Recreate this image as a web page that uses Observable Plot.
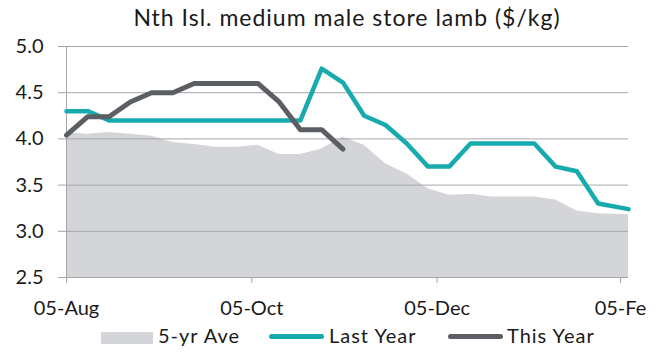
<!DOCTYPE html>
<html>
<head>
<meta charset="utf-8">
<script src="https://cdn.jsdelivr.net/npm/d3@7"></script>
<script src="https://cdn.jsdelivr.net/npm/@observablehq/plot@0.6"></script>
<style>
  html, body { margin: 0; padding: 0; background: #ffffff; }
  #wrap { position: relative; width: 656px; height: 360px; overflow: hidden; font-family: Lato, sans-serif; color: #1a1a1a; }
  #title { position: absolute; left: 66px; top: 6px; width: 562px; text-align: center; font-size: 23px; line-height: 23px; letter-spacing: 1px; white-space: nowrap; z-index: 2; }
  #chart { position: absolute; left: 0; top: 30px; }
  .lg { position: absolute; }
  .lgt { position: absolute; top: 325px; font-size: 20px; line-height: 20px; letter-spacing: 1px; white-space: nowrap; }
</style>
</head>
<body>
<div id="wrap">
  <div id="chart"></div>
  <div id="title">Nth Isl. medium male store lamb ($/kg)</div>
  <div id="legend"></div>
</div>
<script>
// ---- data ----
const dates = [
  "2019-08-05","2019-08-12","2019-08-19","2019-08-26","2019-09-02","2019-09-09","2019-09-16",
  "2019-09-23","2019-09-30","2019-10-07","2019-10-14","2019-10-21","2019-10-28","2019-11-04",
  "2019-11-11","2019-11-18","2019-11-25","2019-12-02","2019-12-09","2019-12-16","2019-12-23",
  "2019-12-30","2020-01-06","2020-01-13","2020-01-20","2020-01-27","2020-02-06"
];
const fiveYrAve = [4.07,4.05,4.07,4.05,4.03,3.96,3.94,3.91,3.91,3.93,3.83,3.83,3.89,4.02,
                   3.93,3.73,3.62,3.46,3.39,3.40,3.37,3.37,3.37,3.34,3.22,3.19,3.18];
const lastYear  = [4.30,4.30,4.20,4.20,4.20,4.20,4.20,4.20,4.20,4.20,4.20,4.20,4.76,4.61,
                   4.25,4.15,3.95,3.70,3.70,3.95,3.95,3.95,3.95,3.70,3.65,3.30,3.24];
const thisYear  = [4.04,4.24,4.24,4.40,4.50,4.50,4.60,4.60,4.60,4.60,4.40,4.10,4.10,3.89];
const yTicks = [2.5, 3.0, 3.5, 4.0, 4.5, 5.0];
const xTickDates  = ["2019-08-05","2019-10-05","2019-12-05","2020-02-05"];
const xTickLabels = ["05-Aug","05-Oct","05-Dec","05-Fe"];
const seriesNames = ["5-yr Ave","Last Year","This Year"];
const colors = {ave: "#d3d5d8", last: "#17abad", cur: "#5b5e62", grid: "#a6a6a6"};

const toDate = s => new Date(s + "T00:00:00Z");
const aveData  = dates.map((d, i) => ({date: toDate(d), v: fiveYrAve[i]}));
const lastData = dates.map((d, i) => ({date: toDate(d), v: lastYear[i]}));
const thisData = thisYear.map((v, i) => ({date: toDate(dates[i]), v}));
const tickD = xTickDates.map(toDate);
const labelOf = new Map(tickD.map((d, i) => [+d, xTickLabels[i]]));
const xDomain = [toDate(dates[0]), toDate(dates[dates.length - 1])];

const chart = Plot.plot({
  width: 656,
  height: 292,
  marginTop: 16,
  marginBottom: 45,
  marginLeft: 66,
  marginRight: 28,
  style: {fontFamily: "Lato, sans-serif", fontSize: "20px", color: "#1a1a1a", background: "transparent"},
  x: {type: "utc", domain: xDomain},
  y: {domain: [2.5, 5.0]},
  marks: [
    Plot.areaY(aveData, {x: "date", y1: 2.5, y2: "v", fill: colors.ave, curve: "linear"}),
    Plot.gridY(yTicks, {stroke: colors.grid, strokeOpacity: 1, strokeWidth: 1}),
    Plot.ruleX([xDomain[0]], {stroke: colors.grid, strokeWidth: 1}),
    Plot.axisY(yTicks, {tickSize: 8, tickPadding: 15, stroke: colors.grid, fill: "#1a1a1a",
      tickFormat: d => d.toFixed(1), label: null}),
    Plot.axisX(tickD.slice(0, 3), {tickSize: 6, tickPadding: 17, stroke: colors.grid, fill: "#1a1a1a",
      tickFormat: d => labelOf.get(+d), label: null, style: {letterSpacing: "0.5px"}}),
    Plot.axisX(tickD.slice(3), {tickSize: 6, tickPadding: 17, stroke: colors.grid, fill: "#1a1a1a",
      tickFormat: d => labelOf.get(+d), label: null, dx: -5}),
    Plot.lineY(lastData, {x: "date", y: "v", stroke: colors.last, strokeWidth: 4.5, strokeLinejoin: "round", strokeLinecap: "round"}),
    Plot.lineY(thisData, {x: "date", y: "v", stroke: colors.cur, strokeWidth: 5, strokeLinejoin: "round", strokeLinecap: "round"})
  ]
});
document.getElementById("chart").appendChild(chart);

// ---- legend ----
const legend = document.getElementById("legend");
const items = [
  {name: seriesNames[0], swatch: {left: 101, top: 332, width: 52, height: 12, radius: 0, color: colors.ave}, textLeft: 158},
  {name: seriesNames[1], swatch: {left: 269, top: 334, width: 55, height: 5, radius: 2.5, color: colors.last}, textLeft: 329},
  {name: seriesNames[2], swatch: {left: 448, top: 334, width: 55, height: 5, radius: 2.5, color: colors.cur}, textLeft: 507}
];
for (const it of items) {
  const s = document.createElement("div");
  s.className = "lg";
  Object.assign(s.style, {left: it.swatch.left + "px", top: it.swatch.top + "px", width: it.swatch.width + "px",
    height: it.swatch.height + "px", background: it.swatch.color, borderRadius: it.swatch.radius + "px"});
  legend.appendChild(s);
  const t = document.createElement("div");
  t.className = "lgt";
  t.style.left = it.textLeft + "px";
  t.textContent = it.name;
  legend.appendChild(t);
}
</script>
</body>
</html>
